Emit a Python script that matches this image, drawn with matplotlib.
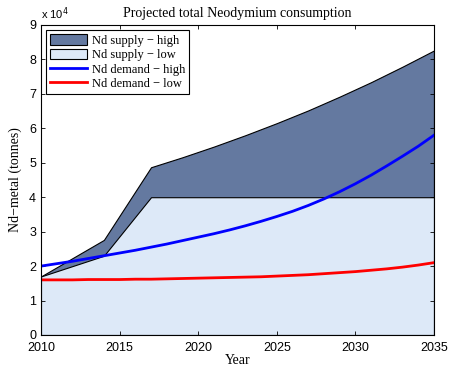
import matplotlib
matplotlib.use("Agg")
import matplotlib.pyplot as plt
from matplotlib.patches import Patch
from matplotlib.lines import Line2D

# Data (units of 1e4 tonnes)
supply_years = [2010, 2014, 2017, 2019, 2021, 2023, 2025, 2027, 2029, 2031, 2033, 2035]
supply_high = [1.70, 2.76, 4.87, 5.16, 5.47, 5.80, 6.15, 6.52, 6.92, 7.34, 7.79, 8.26]
supply_low = [1.70, 2.30, 4.00, 4.00, 4.00, 4.00, 4.00, 4.00, 4.00, 4.00, 4.00, 4.00]

demand_years = list(range(2010, 2036))
demand_high = [2.00, 2.07, 2.14, 2.22, 2.30, 2.38, 2.46, 2.55, 2.64, 2.74, 2.84, 2.94, 3.05,
               3.17, 3.30, 3.44, 3.59, 3.76, 3.95, 4.16, 4.39, 4.64, 4.91, 5.19, 5.48, 5.80]
demand_low = [1.60, 1.60, 1.60, 1.61, 1.61, 1.61, 1.62, 1.62, 1.63, 1.64, 1.65, 1.66, 1.67,
              1.68, 1.69, 1.71, 1.73, 1.75, 1.78, 1.81, 1.84, 1.88, 1.92, 1.97, 2.03, 2.10]

xticks = [2010, 2015, 2020, 2025, 2030, 2035]
yticks = [0, 1, 2, 3, 4, 5, 6, 7, 8, 9]

dark = "#6479A0"
light = "#DDE9F8"
serif = ["Liberation Serif", "DejaVu Serif"]
sans = ["Liberation Sans", "DejaVu Sans"]

fig = plt.figure(figsize=(4.53, 3.68), dpi=100)
ax = fig.add_axes([0.0905, 0.0897, 0.8675, 0.8424])

ax.fill_between(supply_years, 0, supply_high, facecolor=dark, edgecolor="black", linewidth=0.8)
ax.fill_between(supply_years, 0, supply_low, facecolor=light, edgecolor="black", linewidth=0.8)
ax.plot(demand_years, demand_high, color="#0000FF", linewidth=2)
ax.plot(demand_years, demand_low, color="#FF0000", linewidth=2)

ax.set_xlim(2010, 2035)
ax.set_ylim(0, 9)
ax.set_xticks(xticks)
ax.set_yticks(yticks)
ax.tick_params(direction="in", top=True, right=True, length=3, width=0.6, labelsize=9)
ax.tick_params(axis="x", pad=5)
for lab in ax.get_xticklabels() + ax.get_yticklabels():
    lab.set_fontfamily(sans)
for s in ax.spines.values():
    s.set_linewidth(0.8)

ax.set_xlabel("Year", fontfamily=serif, fontsize=10, labelpad=0)
ax.set_ylabel("Nd\u2212metal (tonnes)", fontfamily=serif, fontsize=10, labelpad=5)
ax.set_title("Projected total Neodymium consumption", fontfamily=serif, fontsize=10, pad=6)
ax.text(0.0, 1.01, r"x 10$^4$", transform=ax.transAxes, fontsize=8, fontfamily=sans,
        va="bottom", ha="left")

handles = [
    Patch(facecolor=dark, edgecolor="black", linewidth=0.8),
    Patch(facecolor=light, edgecolor="black", linewidth=0.8),
    Line2D([0], [0], color="#0000FF", linewidth=2),
    Line2D([0], [0], color="#FF0000", linewidth=2),
]
labels = ["Nd supply \u2212 high", "Nd supply \u2212 low", "Nd demand \u2212 high", "Nd demand \u2212 low"]
leg = ax.legend(handles, labels, loc="upper left", prop={"family": serif, "size": 9},
                frameon=True, fancybox=False, edgecolor="black", framealpha=1,
                handlelength=2.9, handleheight=0.9, handletextpad=0.4, labelspacing=0.15,
                borderpad=0.35, borderaxespad=0.4)
leg.get_frame().set_linewidth(0.8)

fig.savefig("out.png", dpi=100)
